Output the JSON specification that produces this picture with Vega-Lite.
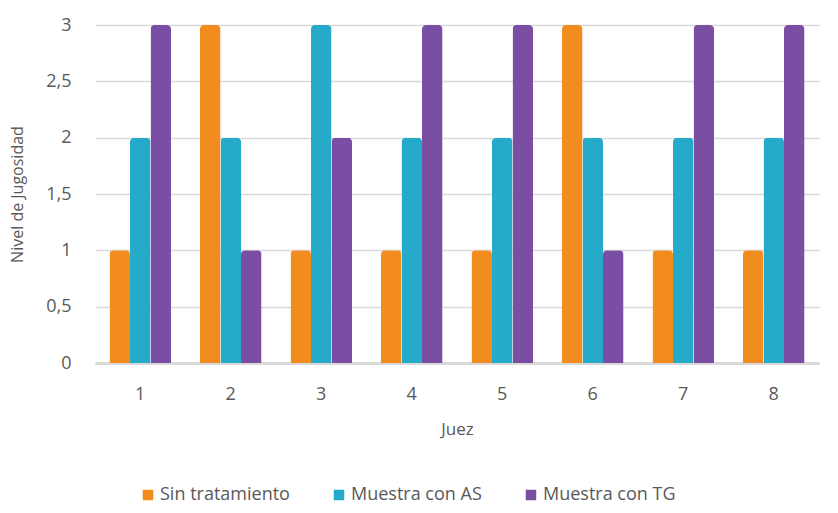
{
  "$schema": "https://vega.github.io/schema/vega-lite/v6.json",
  "autosize": "none",
  "width": 724,
  "height": 338,
  "padding": {"left": 95, "top": 25, "right": 19, "bottom": 150},
  "background": "white",
  "config": {
    "font": "Open Sans",
    "view": {"stroke": null}
  },
  "data": {
    "values": [
      {"juez": "1", "serie": "Sin tratamiento", "nivel": 1},
      {"juez": "1", "serie": "Muestra con AS", "nivel": 2},
      {"juez": "1", "serie": "Muestra con TG", "nivel": 3},
      {"juez": "2", "serie": "Sin tratamiento", "nivel": 3},
      {"juez": "2", "serie": "Muestra con AS", "nivel": 2},
      {"juez": "2", "serie": "Muestra con TG", "nivel": 1},
      {"juez": "3", "serie": "Sin tratamiento", "nivel": 1},
      {"juez": "3", "serie": "Muestra con AS", "nivel": 3},
      {"juez": "3", "serie": "Muestra con TG", "nivel": 2},
      {"juez": "4", "serie": "Sin tratamiento", "nivel": 1},
      {"juez": "4", "serie": "Muestra con AS", "nivel": 2},
      {"juez": "4", "serie": "Muestra con TG", "nivel": 3},
      {"juez": "5", "serie": "Sin tratamiento", "nivel": 1},
      {"juez": "5", "serie": "Muestra con AS", "nivel": 2},
      {"juez": "5", "serie": "Muestra con TG", "nivel": 3},
      {"juez": "6", "serie": "Sin tratamiento", "nivel": 3},
      {"juez": "6", "serie": "Muestra con AS", "nivel": 2},
      {"juez": "6", "serie": "Muestra con TG", "nivel": 1},
      {"juez": "7", "serie": "Sin tratamiento", "nivel": 1},
      {"juez": "7", "serie": "Muestra con AS", "nivel": 2},
      {"juez": "7", "serie": "Muestra con TG", "nivel": 3},
      {"juez": "8", "serie": "Sin tratamiento", "nivel": 1},
      {"juez": "8", "serie": "Muestra con AS", "nivel": 2},
      {"juez": "8", "serie": "Muestra con TG", "nivel": 3}
    ]
  },
  "mark": {"type": "bar", "cornerRadiusTopLeft": 4, "cornerRadiusTopRight": 4},
  "encoding": {
    "x": {
      "field": "juez",
      "type": "nominal",
      "scale": {"paddingInner": 0.32, "paddingOuter": 0.16},
      "axis": {
        "title": "Juez",
        "labelAngle": 0,
        "labelFontSize": 18,
        "labelColor": "#595959",
        "labelPadding": 22,
        "titleFontSize": 17,
        "titleFontWeight": "normal",
        "titleColor": "#595959",
        "titlePadding": 18,
        "domain": true,
        "domainColor": "#d9d9d9",
        "domainWidth": 3,
        "ticks": false
      }
    },
    "xOffset": {
      "field": "serie",
      "sort": ["Sin tratamiento", "Muestra con AS", "Muestra con TG"]
    },
    "y": {
      "field": "nivel",
      "type": "quantitative",
      "scale": {"domain": [0, 3]},
      "axis": {
        "title": "Nivel de Jugosidad",
        "values": [0, 0.5, 1, 1.5, 2, 2.5, 3],
        "format": ",.1~f",
        "formatType": "number",
        "labelExpr": "replace(datum.label, '.', ',')",
        "labelFontSize": 18,
        "labelColor": "#595959",
        "labelPadding": 24,
        "titleFontSize": 16,
        "titleFontWeight": "normal",
        "titleColor": "#595959",
        "titlePadding": 20,
        "domain": false,
        "ticks": false,
        "grid": true,
        "gridColor": "#d9d9d9",
        "gridWidth": 1.5
      }
    },
    "color": {
      "field": "serie",
      "type": "nominal",
      "sort": ["Sin tratamiento", "Muestra con AS", "Muestra con TG"],
      "scale": {
        "domain": ["Sin tratamiento", "Muestra con AS", "Muestra con TG"],
        "range": ["#f28c1e", "#25aac9", "#7a4fa3"]
      },
      "legend": {
        "title": null,
        "orient": "none",
        "direction": "horizontal",
        "legendX": 44,
        "legendY": 461,
        "symbolType": "square",
        "symbolSize": 110,
        "labelFontSize": 18,
        "labelColor": "#595959",
        "labelOffset": 3,
        "columnPadding": 40,
        "symbolStrokeWidth": 0
      }
    }
  }
}
